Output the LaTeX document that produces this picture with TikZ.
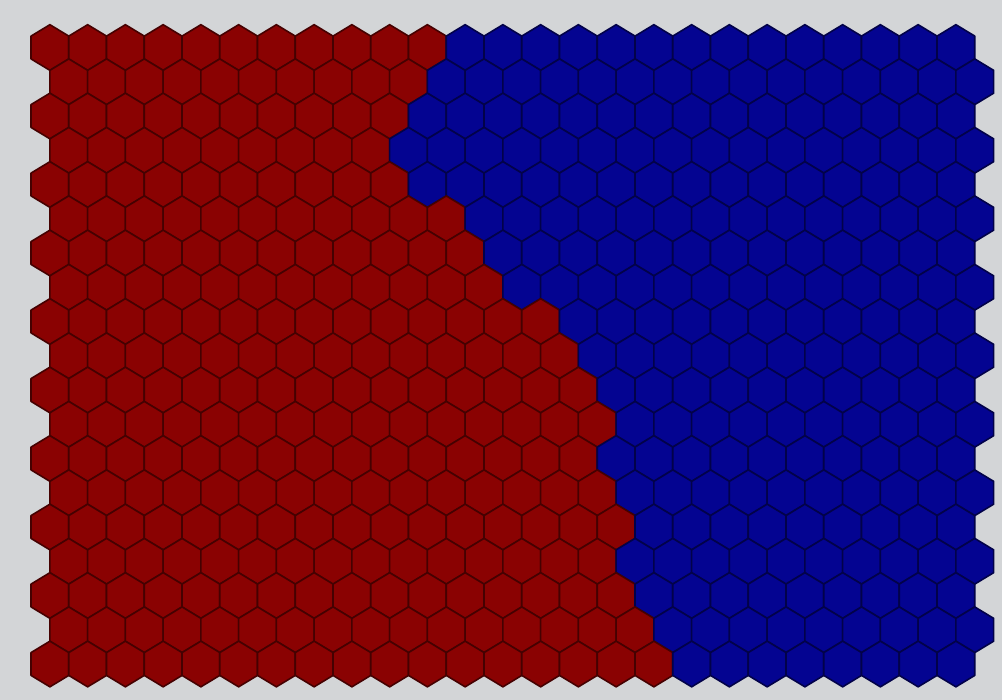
\documentclass[tikz,border=0pt]{standalone}
\definecolor{bg}{RGB}{211,213,215}
\definecolor{hexred}{RGB}{138,2,2}
\definecolor{hexblue}{RGB}{4,4,145}
\tikzset{hexcell/.style={line width=0.9pt, line join=round}}
\begin{document}
\begin{tikzpicture}[x=0.02cm,y=-0.02cm]
\fill[bg] (0,0) rectangle (1002,700);
\useasboundingbox (0,0) rectangle (1002,700);
\foreach \r/\n in {0/11,1/10,2/10,3/9,4/10,5/11,6/12,7/12,8/14,9/14,10/15,11/15,12/15,13/15,14/16,15/15,16/16,17/16,18/17}{
  \pgfmathsetmacro{\cy}{47.5+34.25*\r}
  \pgfmathsetmacro{\off}{mod(\r,2)*18.875}
  \foreach \i in {0,...,24}{
    \pgfmathsetmacro{\cx}{49.9+\off+37.75*\i}
    \ifnum\i<\n \def\hc{hexred}\else\def\hc{hexblue}\fi
    \path[hexcell, fill=\hc, draw=\hc!50!black] (\cx,\cy) ++(0,-22.83) -- ++(18.875,11.42) -- ++(0,22.83) -- ++(-18.875,11.42) -- ++(-18.875,-11.42) -- ++(0,-22.83) -- cycle;
  }
}
\end{tikzpicture}
\end{document}
